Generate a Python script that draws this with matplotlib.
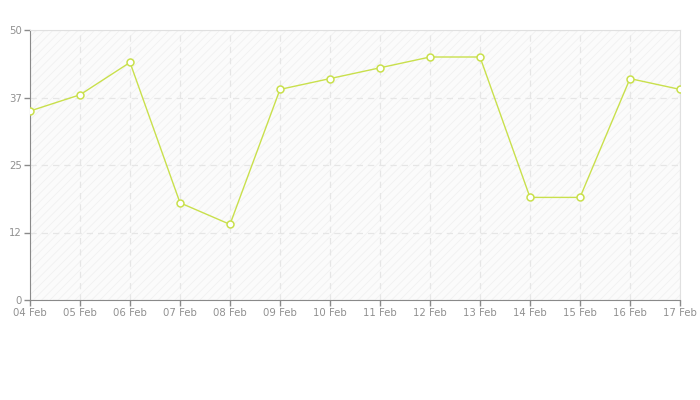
import matplotlib
matplotlib.use("Agg")
import matplotlib.pyplot as plt

days = ["04 Feb", "05 Feb", "06 Feb", "07 Feb", "08 Feb", "09 Feb", "10 Feb",
        "11 Feb", "12 Feb", "13 Feb", "14 Feb", "15 Feb", "16 Feb", "17 Feb"]
values = [35, 38, 44, 18, 14, 39, 41, 43, 45, 45, 19, 19, 41, 39]
yticks = [0, 12.5, 25, 37.5, 50]
ylabels = ["0", "12", "25", "37", "50"]

plt.rcParams['font.family'] = ['DejaVu Sans']
plt.rcParams['hatch.linewidth'] = 0.6
fig = plt.figure(figsize=(7, 4), dpi=100)
ax = fig.add_axes([30 / 700, 100 / 400, 650 / 700, 270 / 400])

x = list(range(len(days)))
ax.set_xlim(0, len(days) - 1)
ax.set_ylim(0, 50)

# hatched background
ax.set_facecolor("#fbfbfb")
ax.axhspan(0, 50, facecolor="none", edgecolor="#f1f1f1", hatch="////", linewidth=0, zorder=0)

ax.grid(True, color="#e6e6e6", linestyle=(0, (5, 4)), linewidth=0.9)
ax.set_axisbelow(True)

ax.plot(x, values, color="#c9e04c", linewidth=1, marker="o", markersize=5,
        markerfacecolor="white", markeredgecolor="#c9e04c", markeredgewidth=1.1, zorder=3)

ax.set_xticks(x)
ax.set_xticklabels(days)
ax.set_yticks(yticks)
ax.set_yticklabels(ylabels)
ax.tick_params(colors="#8a8a8a", labelcolor="#909090", labelsize=7.3, length=4, width=1, pad=2)

for s in ["left", "bottom"]:
    ax.spines[s].set_color("#8a8a8a")
for s in ["top", "right"]:
    ax.spines[s].set_color("#e0e0e0")

fig.savefig("out.png", dpi=100)
